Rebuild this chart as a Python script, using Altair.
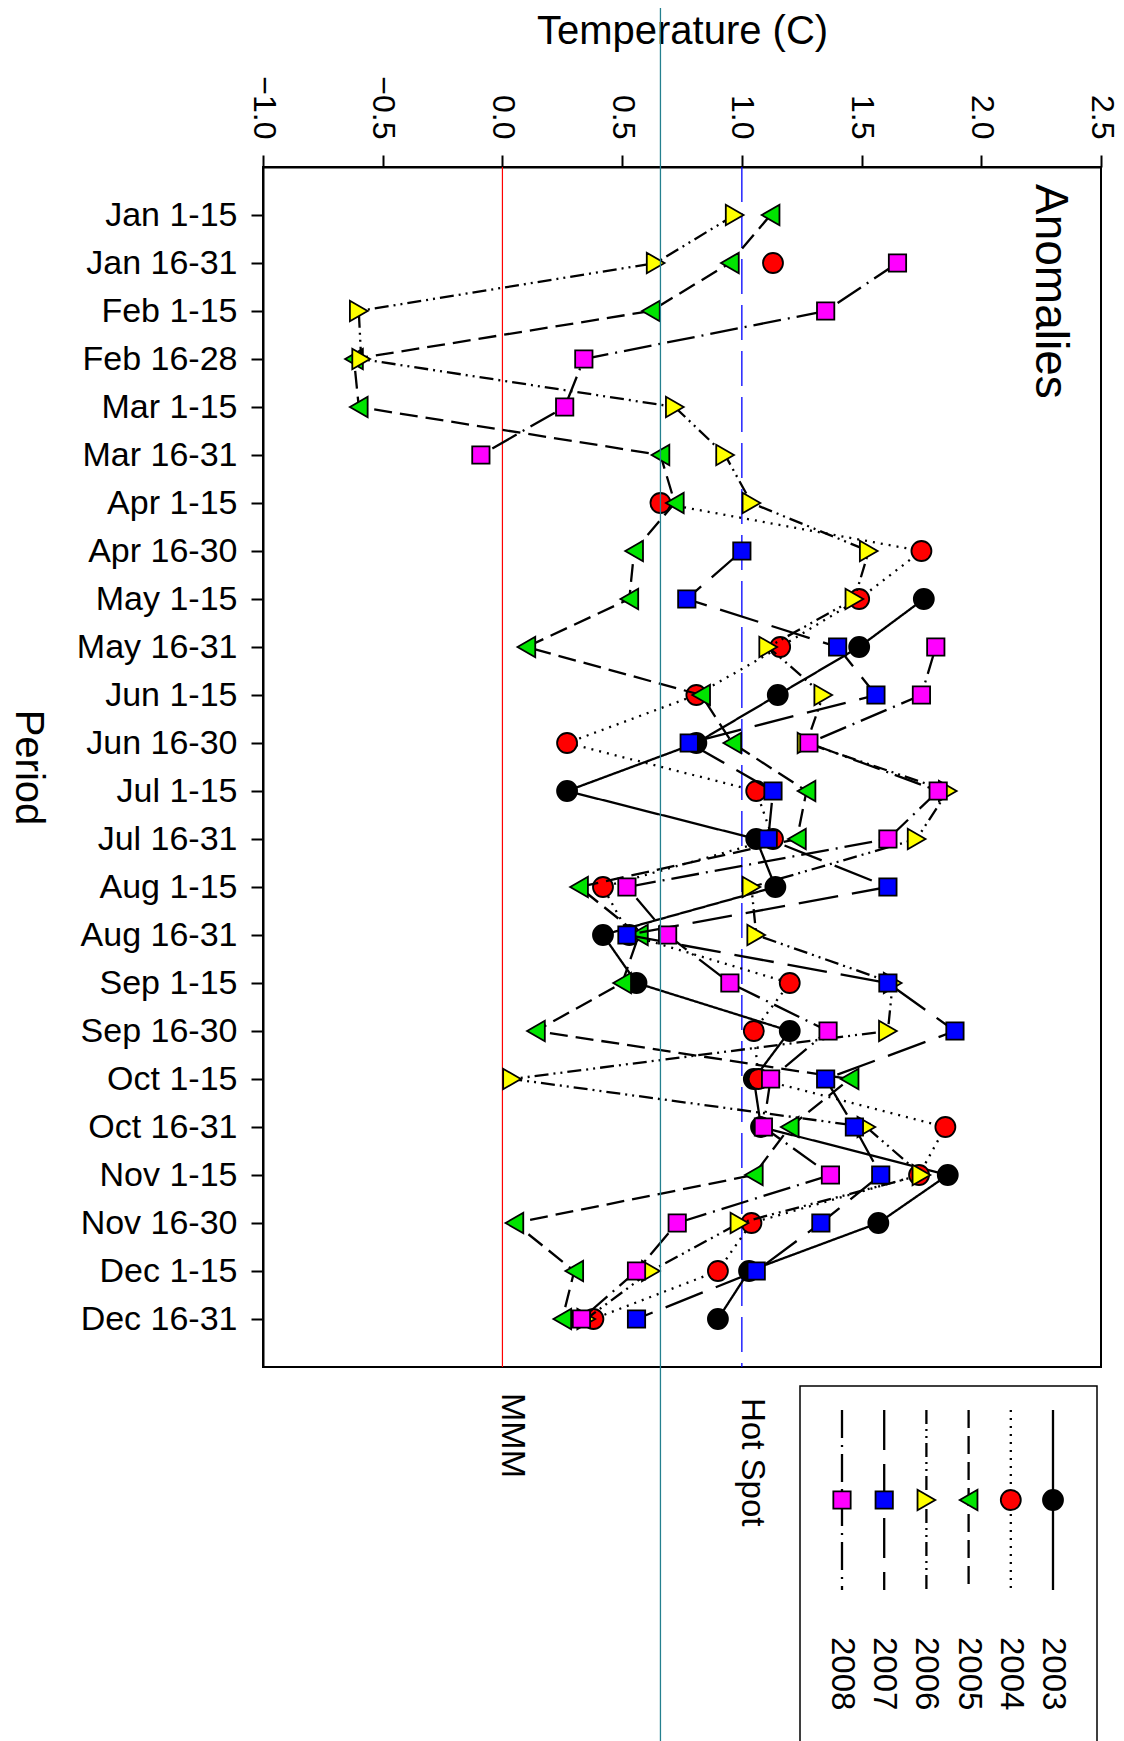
import altair as alt
import pandas as pd

# ---------------- data ----------------
periods = ["Jan 1-15", "Jan 16-31", "Feb 1-15", "Feb 16-28", "Mar 1-15", "Mar 16-31",
           "Apr 1-15", "Apr 16-30", "May 1-15", "May 16-31", "Jun 1-15", "Jun 16-30",
           "Jul 1-15", "Jul 16-31", "Aug 1-15", "Aug 16-31", "Sep 1-15", "Sep 16-30",
           "Oct 1-15", "Oct 16-31", "Nov 1-15", "Nov 16-30", "Dec 1-15", "Dec 16-31"]

years = ["2003", "2004", "2005", "2006", "2007", "2008"]

t2003 = [None, None, None, None, None, None, None, None,
         1.76, 1.49, 1.15, 0.81, 0.27, 1.06, 1.14, 0.42, 0.56, 1.20, 1.05, 1.08, 1.86, 1.57, 1.03, 0.90]
t2004 = [None, 1.13, None, None, None, None, 0.66, 1.75,
         1.49, 1.16, 0.81, 0.27, 1.06, 1.13, 0.42, 0.53, 1.20, 1.05, 1.07, 1.85, 1.74, 1.04, 0.90, 0.38]
t2005 = [1.12, 0.95, 0.62, -0.62, -0.60, 0.66, 0.72, 0.55,
         0.53, 0.10, 0.83, 0.96, 1.27, 1.23, 0.32, 0.57, 0.50, 0.14, 1.45, 1.20, 1.05, 0.05, 0.30, 0.25]
t2006 = [0.97, 0.64, -0.60, -0.59, 0.72, 0.93, 1.04, 1.53,
         1.47, 1.11, 1.34, 1.27, 1.86, 1.73, 1.04, 1.06, 1.63, 1.61, 0.04, 1.52, 1.75, 0.99, 0.62, 0.35]
t2007 = [None, None, None, None, None, None, None, 1.00,
         0.77, 1.40, 1.56, 0.78, 1.13, 1.11, 1.61, 0.52, 1.61, 1.89, 1.35, 1.47, 1.58, 1.33, 1.06, 0.56]
t2008 = [None, 1.65, 1.35, 0.34, 0.26, -0.09, None, None,
         None, 1.81, 1.75, 1.28, 1.82, 1.61, 0.52, 0.69, 0.95, 1.36, 1.12, 1.09, 1.37, 0.73, 0.56, 0.33]

x_ticks = [-1.0, -0.5, 0.0, 0.5, 1.0, 1.5, 2.0, 2.5]
mmm_value = 0.0
hotspot_value = 1.0
threshold_value = 0.66

# ---------------- styles ----------------
fills = ["#000000", "#FF0000", "#00E400", "#FFFF00", "#0000FF", "#FF00FF"]
shapes = ["circle", "circle", "triangle-left", "triangle-right", "square", "square"]
sizes = [400, 400, 420, 420, 300, 300]
dashes = [[1, 0], [2, 6], [18, 8], [14, 5, 2, 5, 2, 5], [40, 14], [28, 7, 2, 7]]
FONT = "Liberation Sans"

series = dict(zip(years, [t2003, t2004, t2005, t2006, t2007, t2008]))

rows = []
for yr in years:
    seg = 0
    prev = False
    for i, (p, v) in enumerate(zip(periods, series[yr])):
        if v is None:
            prev = False
            continue
        if not prev:
            seg += 1
        rows.append(dict(period=p, idx=i, temp=v, year=yr, seg=f"{yr}-{seg}"))
        prev = True
df = pd.DataFrame(rows)

x_enc = alt.X(
    "temp:Q",
    scale=alt.Scale(domain=[x_ticks[0], x_ticks[-1]], nice=False, zero=False),
    axis=alt.Axis(
        orient="top", values=x_ticks, format=".1f", labelAngle=90,
        labelAlign="right", labelBaseline="middle", labelFontSize=32,
        labelFlush=False, labelOverlap=False, labelPadding=16,
        tickSize=12, tickWidth=2, domainWidth=2, grid=False,
        title="Temperature (C)", titleFontSize=40, titleFontWeight="normal",
        titleX=419, titleY=-124, titleAlign="center", titleBaseline="alphabetic",
        labelColor="black", tickColor="black", domainColor="black", titleColor="black",
        labelFont=FONT, titleFont=FONT,
    ),
)
y_enc = alt.Y(
    "period:N", sort=periods,
    scale=alt.Scale(type="point", domain=periods, padding=1),
    axis=alt.Axis(
        labelFontSize=34, labelPadding=14, tickSize=12, tickWidth=2, domainWidth=2,
        grid=False, title="Period", titleAngle=90, titleFontSize=40,
        titleFontWeight="normal", titleX=-248, titleY=600, titleAlign="center",
        titleBaseline="alphabetic",
        labelColor="black", tickColor="black", domainColor="black", titleColor="black",
        labelFont=FONT, titleFont=FONT,
    ),
)

base = alt.Chart(df)

main_layers = []

mmm_df = pd.DataFrame({"v": [mmm_value], "label": ["MMM"]})
hot_df = pd.DataFrame({"v": [hotspot_value], "label": ["Hot Spot"]})
thr_df = pd.DataFrame({"v": [threshold_value]})

main_layers.append(
    alt.Chart(mmm_df).mark_rule(color="#FF0000", strokeWidth=1.2).encode(x=alt.X("v:Q"))
)
main_layers.append(
    alt.Chart(hot_df).mark_rule(color="#0000FF", strokeWidth=1.3, strokeDash=[35, 11]).encode(x=alt.X("v:Q"))
)

for k, yr in enumerate(years):
    sub = base.transform_filter(alt.datum.year == yr)
    main_layers.append(
        sub.mark_line(color="black", strokeWidth=2.3, strokeDash=dashes[k]).encode(
            x=x_enc, y=y_enc, detail="seg:N", order="idx:Q"
        )
    )
    main_layers.append(
        sub.mark_point(filled=True, fill=fills[k], stroke="black", strokeWidth=1.8,
                       opacity=1, shape=shapes[k], size=sizes[k]).encode(x=x_enc, y=y_enc)
    )

main_layers.append(
    alt.Chart(thr_df).mark_rule(color="#24808F", strokeWidth=1.3).encode(
        x=alt.X("v:Q"), y=alt.value(-170), y2=alt.value(1600)
    )
)

main_layers.append(
    alt.Chart(mmm_df).mark_text(angle=90, align="left", baseline="alphabetic",
                                fontSize=34, font=FONT, color="black").encode(
        x=alt.X("v:Q"), y=alt.value(1226), text="label:N")
)
main_layers.append(
    alt.Chart(hot_df).mark_text(angle=90, align="left", baseline="alphabetic",
                                fontSize=33, font=FONT, color="black").encode(
        x=alt.X("v:Q"), y=alt.value(1231), text="label:N")
)
main_layers.append(
    alt.Chart(pd.DataFrame({"label": ["Anomalies"]})).mark_text(
        angle=90, align="left", baseline="alphabetic", fontSize=46, font=FONT, color="black"
    ).encode(x=alt.value(773), y=alt.value(17), text="label:N")
)

main_group = alt.layer(*main_layers)

# ---------------- legend ----------------
leg_df = pd.DataFrame({"year": years})
leg_x = alt.X("year:N", scale=alt.Scale(type="point", domain=years, range=[790, 579], padding=0), axis=None)

legend_layers = [
    alt.Chart(pd.DataFrame({"a": [0]})).mark_rect(fillOpacity=0, stroke="black", strokeWidth=1.5).encode(
        x=alt.value(537), x2=alt.value(834), y=alt.value(1219), y2=alt.value(1600)
    ),
    alt.Chart(leg_df).mark_rule(color="black", strokeWidth=2.3).encode(
        x=leg_x, y=alt.value(1243), y2=alt.value(1423),
        strokeDash=alt.StrokeDash("year:N", scale=alt.Scale(domain=years, range=dashes), legend=None),
    ),
]
for k, yr in enumerate(years):
    legend_layers.append(
        alt.Chart(leg_df).transform_filter(alt.datum.year == yr).mark_point(
            filled=True, fill=fills[k], stroke="black", strokeWidth=1.8, opacity=1,
            shape=shapes[k], size=sizes[k]
        ).encode(x=leg_x, y=alt.value(1333))
    )
legend_layers.append(
    alt.Chart(leg_df).mark_text(angle=90, align="left", baseline="middle", fontSize=33,
                                font=FONT, color="black").encode(
        x=leg_x, y=alt.value(1470), text="year:N")
)
legend_group = alt.layer(*legend_layers)

chart = alt.layer(main_group, legend_group).resolve_scale(x="independent").properties(
    width=838, height=1200,
    autosize=alt.AutoSizeParams(type="none"),
    padding={"left": 255, "top": 159, "right": 15, "bottom": 374},
).configure(
    font=FONT,
    view=alt.ViewConfig(stroke="black", strokeWidth=2),
)

chart.save("out.html", embed_options={"renderer": "svg", "actions": False})
